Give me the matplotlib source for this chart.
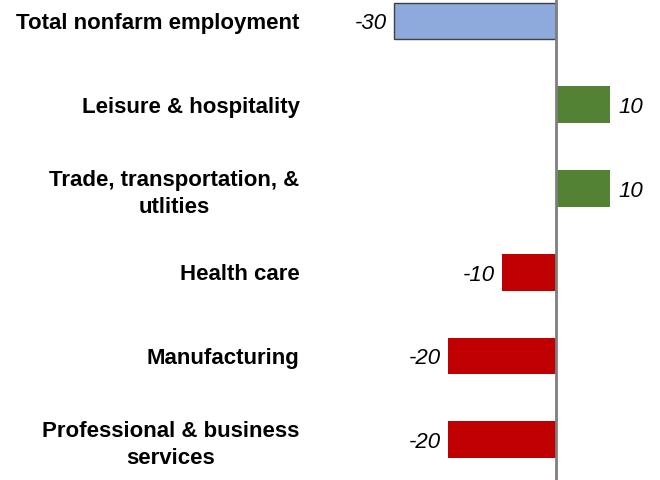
import numpy as np
import matplotlib.pyplot as plt

plt.rcParams['font.family'] = ['Liberation Sans', 'DejaVu Sans']

# Data
categories = ['Total nonfarm employment', 'Leisure & hospitality',
              'Trade, transportation, &\nutlities', 'Health care',
              'Manufacturing', 'Professional & business\nservices']
values = [-30, 10, 10, -10, -20, -20]
colors = ['#8EA9DB', '#548235', '#548235', '#C00000', '#C00000', '#C00000']
edges = ['#404040', 'none', 'none', 'none', 'none', 'none']

fig = plt.figure(figsize=(6.6, 4.8), dpi=100)
ax = fig.add_axes([340 / 660, 0, 320 / 660, 1])

y = np.arange(len(categories))
bars = ax.barh(y, values, height=0.44, color=colors, edgecolor=edges, linewidth=1)

ax.set_xlim(-40, 19.26)
ax.set_ylim(5.48, -0.25)

ax.axvline(0, color='#7F7F7F', lw=2, zorder=3)

# value labels, italic, next to bar ends
for b, v in zip(bars, values):
    yc = b.get_y() + b.get_height() / 2
    if v < 0:
        ax.annotate(f'{v}', (v, yc), xytext=(-5, -2), textcoords='offset points',
                    ha='right', va='center', fontsize=16, style='italic')
    else:
        ax.annotate(f'{v}', (v, yc), xytext=(6, -2), textcoords='offset points',
                    ha='left', va='center', fontsize=16, style='italic')

ax.set_yticks(y)
ax.set_yticklabels(categories, fontsize=16, fontweight='bold')
for t in ax.get_yticklabels():
    t.set_multialignment('center')
    t.set_linespacing(1.35)
ax.tick_params(axis='y', length=0, pad=29)
ax.set_xticks([])
for s in ax.spines.values():
    s.set_visible(False)

fig.savefig('out.png', dpi=100)
